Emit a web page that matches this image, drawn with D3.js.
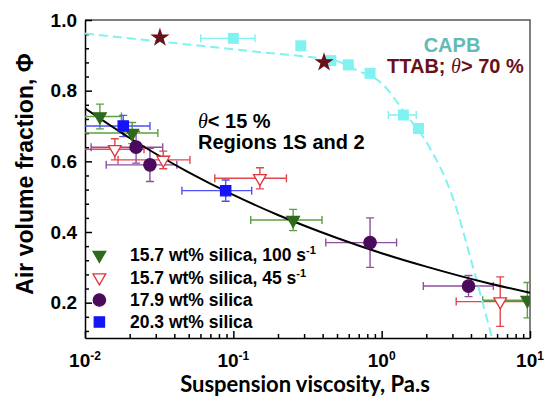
<!DOCTYPE html>
<html>
<head>
<meta charset="utf-8">
<script src="https://cdn.jsdelivr.net/npm/d3@7"></script>
<style>
	body { margin: 0; background: #fff; }
	text { font-family: 'Liberation Sans', Arial, sans-serif; font-weight: bold; }
</style>
</head>
<body>
<div id="chart"></div>
<script>
var chart_width = 544
var chart_height = 399
var plot = { left: 85, right: 530, top: 20, bottom: 338 }

// axis ticks
var xMajorTicks = [0.01, 0.1, 1, 10]
var xExponents = ['-2', '-1', '0', '1']
var xMinorTicks = [0.02, 0.03, 0.04, 0.05, 0.06, 0.07, 0.08, 0.09,
	0.2, 0.3, 0.4, 0.5, 0.6, 0.7, 0.8, 0.9,
	2, 3, 4, 5, 6, 7, 8, 9]
var yMajorTicks = [0.2, 0.4, 0.6, 0.8, 1.0]
var yMinorTicks = [0.12, 0.16, 0.24, 0.28, 0.32, 0.36, 0.44, 0.48, 0.52, 0.56,
	0.64, 0.68, 0.72, 0.76, 0.84, 0.88, 0.92, 0.96]

// 15.7 wt% silica, 100 s-1
var s100X = [0.0126, 0.0208, 0.253, 9.6]
var s100Y = [0.727, 0.680, 0.434, 0.207]
var s100Xlo = [0.0095, 0.0095, 0.131, 4.8]
var s100Xhi = [0.0176, 0.031, 0.396, 14]
var s100Yerr = [0.035, 0.03, 0.03, 0.05]

// 15.7 wt% silica, 45 s-1
var s45X = [0.0159, 0.0337, 0.151, 6.3]
var s45Y = [0.634, 0.604, 0.552, 0.203]
var s45Xlo = [0.0095, 0.0167, 0.075, 3.18]
var s45Xhi = [0.025, 0.051, 0.228, 14]
var s45Yerr = [0.03, 0.025, 0.03, 0.07]

// 17.9 wt% silica
var s179X = [0.0221, 0.0274, 0.835, 3.85]
var s179Y = [0.640, 0.590, 0.370, 0.247]
var s179Xlo = [0.011, 0.0139, 0.42, 1.91]
var s179Xhi = [0.0334, 0.0416, 1.26, 5.66]
var s179Yerr = [0.045, 0.047, 0.07, 0.03]

// 20.3 wt% silica
var s203X = [0.0181, 0.0888]
var s203Y = [0.700, 0.517]
var s203Xlo = [0.0098, 0.045]
var s203Xhi = [0.0274, 0.133]
var s203Yerr = [0.03, 0.03]

// TTAB foams
var ttabX = [0.032, 0.409]
var ttabY = [0.950, 0.880]

// CAPB foams
var capbX = [0.1, 0.285, 0.454, 0.596, 0.835, 1.40, 1.77]
var capbY = [0.948, 0.927, 0.885, 0.873, 0.849, 0.731, 0.693]
var capbXlo = [0.0603, null, null, null, null, 1.11, null]
var capbXhi = [0.140, null, null, null, null, 1.71, null]

// fitted curves
var fitX = [0.01, 0.02, 0.05, 0.1, 0.2, 0.5, 1, 2, 5, 10]
var fitY = [0.750, 0.666, 0.569, 0.505, 0.448, 0.383, 0.340, 0.302, 0.257, 0.228]
var capbFitX = [0.01, 0.044, 0.18, 0.38, 0.49, 0.68, 1.0, 1.44, 2.1, 3.06, 4.07, 5.55]
var capbFitY = [0.962, 0.933, 0.906, 0.892, 0.885, 0.858, 0.821, 0.736, 0.640, 0.490, 0.310, 0.100]

var legendLabels = ['15.7 wt% silica, 100 s', '15.7 wt% silica, 45 s', '17.9 wt% silica', '20.3 wt% silica']
var legendSup = ['-1', '-1', '', '']

function rows(xs, ys, xlo, xhi, yerr) {
	return xs.map(function(x, i) {
		return {
			x: x, y: ys[i],
			xlo: xlo ? xlo[i] : null, xhi: xhi ? xhi[i] : null,
			yerr: yerr ? yerr[i] : null
		}
	})
}

var series = [
	{ name: 's100', data: rows(s100X, s100Y, s100Xlo, s100Xhi, s100Yerr), shape: 'down', fill: '#2f6a1c', stroke: '#2f6a1c', bar: '#5e9e44' },
	{ name: 's45', data: rows(s45X, s45Y, s45Xlo, s45Xhi, s45Yerr), shape: 'down', fill: '#fff', stroke: '#e2333a', bar: '#e2474c' },
	{ name: 's179', data: rows(s179X, s179Y, s179Xlo, s179Xhi, s179Yerr), shape: 'circle', fill: '#4b0b5c', stroke: '#4b0b5c', bar: '#8d4f9f' },
	{ name: 's203', data: rows(s203X, s203Y, s203Xlo, s203Xhi, s203Yerr), shape: 'square', fill: '#1414f5', stroke: '#1414f5', bar: '#4f4ff7' }
]

var svg = d3.select('#chart')
	.append('svg')
	.attr('width', chart_width)
	.attr('height', chart_height)

var x_scale = d3.scaleLog()
	.domain([0.01, 10])
	.range([plot.left, plot.right])

var y_scale = d3.scaleLinear()
	.domain([0.1, 1.0])
	.range([plot.bottom, plot.top])

svg.append('clipPath')
	.attr('id', 'plot-clip')
	.append('rect')
	.attr('x', plot.left)
	.attr('y', plot.top)
	.attr('width', plot.right - plot.left)
	.attr('height', plot.bottom - plot.top)

// frame on top and right
svg.append('path')
	.attr('d', 'M' + plot.left + ',' + plot.top + 'H' + plot.right + 'V' + plot.bottom)
	.attr('fill', 'none')
	.attr('stroke', '#555')
	.attr('stroke-width', 1.5)

// axes, ticks pointing inward
var y_axis = d3.axisLeft(y_scale)
	.tickValues(yMajorTicks)
	.tickFormat(d3.format('.1f'))
	.tickSizeInner(-7)
	.tickSizeOuter(0)
	.tickPadding(8)
var gy = svg.append('g')
	.attr('class', 'y-axis')
	.attr('transform', 'translate(' + plot.left + ', 0)')
	.call(y_axis)

svg.append('g')
	.attr('transform', 'translate(' + plot.left + ', 0)')
	.call(d3.axisLeft(y_scale).tickValues(yMinorTicks).tickFormat('').tickSizeInner(-4).tickSizeOuter(0))
	.select('.domain').remove()

var x_axis = d3.axisBottom(x_scale)
	.tickValues(xMajorTicks)
	.tickFormat('')
	.tickSizeInner(-7)
	.tickSizeOuter(0)
var gx = svg.append('g')
	.attr('class', 'x-axis')
	.attr('transform', 'translate(0, ' + plot.bottom + ')')
	.call(x_axis)

svg.append('g')
	.attr('transform', 'translate(0, ' + plot.bottom + ')')
	.call(d3.axisBottom(x_scale).tickValues(xMinorTicks).tickFormat('').tickSizeInner(-4).tickSizeOuter(0))
	.select('.domain').remove()

svg.selectAll('.tick line, .domain')
	.attr('stroke', '#000')
	.attr('stroke-width', 1.5)

gy.selectAll('text')
	.attr('font-size', 19)
	.attr('font-family', "'Liberation Sans', Arial, sans-serif")
	.attr('font-weight', 'bold')
	.attr('fill', '#000')

// powers of ten under the x axis
var xlabels = svg.append('g')
	.selectAll('text')
	.data(xMajorTicks)
	.enter()
	.append('text')
	.attr('x', d => x_scale(d))
	.attr('y', 367)
	.attr('text-anchor', 'middle')
	.attr('font-size', 19)
xlabels.append('tspan').text('10')
xlabels.append('tspan')
	.attr('dy', -7)
	.attr('font-size', 12)
	.text((d, i) => xExponents[i])

// axis titles
svg.append('text')
	.attr('transform', 'translate(33, 174) rotate(-90)')
	.attr('text-anchor', 'middle')
	.attr('font-size', 23)
	.text('Air volume fraction, Φ')

svg.append('text')
	.attr('x', 305)
	.attr('y', 392)
	.attr('text-anchor', 'middle')
	.attr('font-size', 22)
	.style('font-family', 'Lato, sans-serif')
	.text('Suspension viscosity, Pa.s')

var line = d3.line()
	.x(d => x_scale(d[0]))
	.y(d => y_scale(d[1]))
	.curve(d3.curveMonotoneX)

var clipped = svg.append('g').attr('clip-path', 'url(#plot-clip)')

// error bars
var capbRows = rows(capbX, capbY, capbXlo, capbXhi, null)
var barSets = series.map(s => ({ data: s.data, color: s.bar }))
	.concat([{ data: capbRows, color: '#80f2f2' }])

barSets.forEach(function(s) {
	var g = clipped.append('g')
		.attr('stroke', s.color)
		.attr('stroke-width', 1.4)
		.attr('fill', 'none')
	s.data.forEach(function(d) {
		var cx = x_scale(d.x), cy = y_scale(d.y)
		var path = ''
		if (d.xlo != null) {
			var x0 = x_scale(d.xlo), x1 = x_scale(d.xhi)
			path += 'M' + x0 + ',' + cy + 'H' + x1
			path += 'M' + x0 + ',' + (cy - 4) + 'V' + (cy + 4)
			path += 'M' + x1 + ',' + (cy - 4) + 'V' + (cy + 4)
		}
		if (d.yerr != null) {
			var y0 = y_scale(d.y - d.yerr), y1 = y_scale(d.y + d.yerr)
			path += 'M' + cx + ',' + y0 + 'V' + y1
			path += 'M' + (cx - 4) + ',' + y0 + 'H' + (cx + 4)
			path += 'M' + (cx - 4) + ',' + y1 + 'H' + (cx + 4)
		}
		g.append('path').attr('d', path)
	})
})

// fitted lines
clipped.append('path')
	.datum(d3.zip(capbFitX, capbFitY))
	.attr('fill', 'none')
	.attr('stroke', '#80f2f2')
	.attr('stroke-width', 2)
	.attr('stroke-dasharray', '9,5')
	.attr('d', line)

clipped.append('path')
	.datum(d3.zip(fitX, fitY))
	.attr('fill', 'none')
	.attr('stroke', '#000')
	.attr('stroke-width', 2)
	.attr('d', line)

// markers
var symbols = {
	down: d3.symbol().type(d3.symbolTriangle).size(70),
	circle: d3.symbol().type(d3.symbolCircle).size(120),
	square: d3.symbol().type(d3.symbolSquare).size(105),
	star: d3.symbol().type(d3.symbolStar).size(115),
	capb: d3.symbol().type(d3.symbolSquare).size(121)
}

function marker(sel, shape, fill, stroke) {
	sel.append('path')
		.attr('d', symbols[shape]())
		.attr('transform', d => 'translate(' + x_scale(d.x) + ',' + y_scale(d.y) + ')' + (shape === 'down' ? ' rotate(180)' : ''))
		.attr('fill', fill)
		.attr('stroke', stroke)
		.attr('stroke-width', 1.3)
}

clipped.selectAll('.capb')
	.data(capbRows)
	.enter()
	.call(marker, 'capb', '#80f2f2', 'none')

series.forEach(function(s) {
	clipped.selectAll('.' + s.name)
		.data(s.data)
		.enter()
		.call(marker, s.shape, s.fill, s.stroke)
})

clipped.selectAll('.ttab')
	.data(rows(ttabX, ttabY))
	.enter()
	.call(marker, 'star', '#6a1018', 'none')

// annotations
var region = svg.append('text')
	.attr('x', 198)
	.attr('y', 128)
	.attr('font-size', 20)
region.append('tspan')
	.style('font-family', "'Liberation Serif', serif")
	.style('font-style', 'italic')
	.style('font-weight', 'normal')
	.text('θ')
region.append('tspan').text('< 15 %')

svg.append('text')
	.attr('x', 198)
	.attr('y', 149)
	.attr('font-size', 20)
	.text('Regions 1S and 2')

svg.append('text')
	.attr('x', 452)
	.attr('y', 52)
	.attr('text-anchor', 'middle')
	.attr('font-size', 20)
	.attr('fill', '#62bab3')
	.text('CAPB')

var ttab = svg.append('text')
	.attr('x', 387)
	.attr('y', 73)
	.attr('font-size', 20)
	.attr('fill', '#6a1018')
ttab.append('tspan').text('TTAB; ')
ttab.append('tspan')
	.style('font-family', "'Liberation Serif', serif")
	.style('font-style', 'italic')
	.style('font-weight', 'normal')
	.text('θ')
ttab.append('tspan').text('> 70 %')

// legend
var legendRows = [255, 277.5, 300, 322]
var legend = svg.append('g')
series.forEach(function(s, i) {
	var row = legend.append('g')
	row.selectAll('path')
		.data([{ x: 0.0125, y: y_scale.invert(legendRows[i]) }])
		.enter()
		.call(marker, s.shape, s.fill, s.stroke)
	var t = row.append('text')
		.attr('x', 130)
		.attr('y', legendRows[i] + 6)
		.attr('font-size', 17.5)
	t.append('tspan').text(legendLabels[i])
	if (legendSup[i]) {
		t.append('tspan')
			.attr('dy', -7)
			.attr('font-size', 11)
			.text(legendSup[i])
	}
})
</script>
</body>
</html>
